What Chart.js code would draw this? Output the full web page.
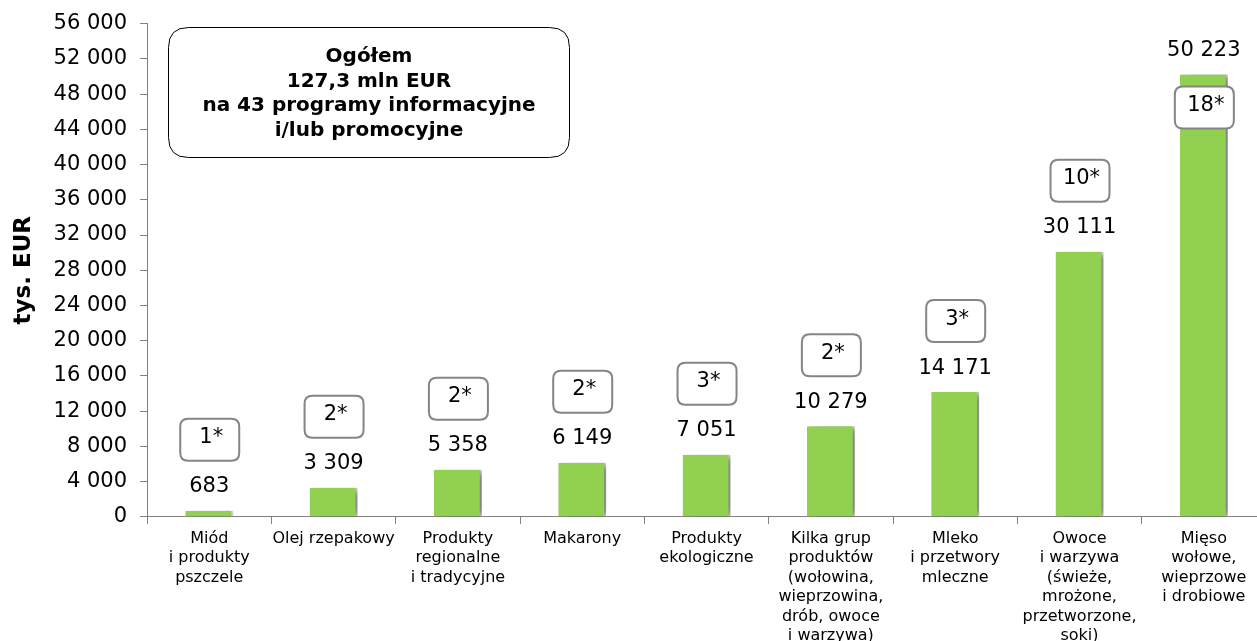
<!DOCTYPE html>
<html>
<head>
<meta charset="utf-8">
<script src="https://cdn.jsdelivr.net/npm/chart.js@4"></script>
<style>
  html, body { margin: 0; padding: 0; background: #fff; overflow: hidden; }
  #wrap { position: relative; width: 1268px; height: 656px; margin-top: -2px; }
</style>
</head>
<body>
<div id="wrap"><canvas id="budgetChart"></canvas></div>
<script>
// Sector names (one array entry per label line)
var categories = [
    ['Miód', 'i produkty', 'pszczele'],
    ['Olej rzepakowy'],
    ['Produkty', 'regionalne', 'i tradycyjne'],
    ['Makarony'],
    ['Produkty', 'ekologiczne'],
    ['Kilka grup', 'produktów', '(wołowina,', 'wieprzowina,', 'drób, owoce', 'i warzywa)'],
    ['Mleko', 'i przetwory', 'mleczne'],
    ['Owoce', 'i warzywa', '(świeże,', 'mrożone,', 'przetworzone,', 'soki)'],
    ['Mięso', 'wołowe,', 'wieprzowe', 'i drobiowe']
];
// Budget per sector, thousands of EUR
var amounts = [683, 3309, 5358, 6149, 7051, 10279, 14171, 30111, 50223];
// Number of programmes per sector
var programmes = [1, 2, 2, 2, 3, 2, 3, 10, 18];
var summaryLines = ['Ogółem', '127,3 mln EUR', 'na 43 programy informacyjne', 'i/lub promocyjne'];

var FONT = '"DejaVu Sans", Verdana, sans-serif';

function spaced(n) {
    return String(n).replace(/\B(?=(\d{3})+(?!\d))/g, ' ');
}

function roundRect(ctx, x, y, w, h, r) {
    ctx.beginPath();
    ctx.moveTo(x + r, y);
    ctx.lineTo(x + w - r, y);
    ctx.quadraticCurveTo(x + w, y, x + w, y + r);
    ctx.lineTo(x + w, y + h - r);
    ctx.quadraticCurveTo(x + w, y + h, x + w - r, y + h);
    ctx.lineTo(x + r, y + h);
    ctx.quadraticCurveTo(x, y + h, x, y + h - r);
    ctx.lineTo(x, y + r);
    ctx.quadraticCurveTo(x, y, x + r, y);
    ctx.closePath();
}

// soft shadow on the right of each bar
var barShadow = {
    id: 'barShadow',
    beforeDatasetsDraw: function(chart) {
        var ctx = chart.ctx;
        ctx.save();
        ctx.shadowColor = 'rgba(0, 0, 0, 0.55)';
        ctx.shadowBlur = 8;
        ctx.shadowOffsetX = 5;
        ctx.shadowOffsetY = 1;
    },
    afterDatasetsDraw: function(chart) {
        chart.ctx.restore();
    }
};

// value labels, programme-count boxes and the summary box
var annotations = {
    id: 'annotations',
    afterDraw: function(chart) {
        var ctx = chart.ctx;
        var bars = chart.getDatasetMeta(0).data;
        ctx.save();
        ctx.textAlign = 'center';
        ctx.textBaseline = 'middle';
        ctx.font = '21px ' + FONT;
        bars.forEach(function(bar, i) {
            var labelY = bar.y - 24;
            ctx.fillStyle = '#000';
            ctx.fillText(spaced(amounts[i]), bar.x, labelY);

            // the last bar is tall enough to hold its box inside
            var boxY = i === amounts.length - 1 ? labelY + 57 : labelY - 47;
            roundRect(ctx, bar.x - 29, boxY - 21, 59, 42, 8);
            ctx.fillStyle = '#fff';
            ctx.fill();
            ctx.lineWidth = 2;
            ctx.strokeStyle = '#858585';
            ctx.stroke();
            ctx.fillStyle = '#000';
            ctx.fillText(programmes[i] + '*', bar.x + 2, boxY - 2);
        });

        roundRect(ctx, 168.5, 29.5, 401, 130, 20);
        ctx.fillStyle = '#fff';
        ctx.fill();
        ctx.lineWidth = 1;
        ctx.strokeStyle = '#000';
        ctx.stroke();
        ctx.fillStyle = '#000';
        ctx.font = 'bold 20px ' + FONT;
        summaryLines.forEach(function(line, k) {
            ctx.fillText(line, 369, 59 + k * 24.5);
        });
        ctx.restore();
    }
};

var ctx = document.getElementById('budgetChart').getContext('2d');
var budgetChart = new Chart(ctx, {
    type: 'bar',
    data: {
        labels: categories,
        datasets: [{
            data: amounts,
            backgroundColor: '#92d050',
            borderColor: '#ffffff',
            borderWidth: { top: 0, left: 0, right: 2, bottom: 0 },
            borderSkipped: false,
            barPercentage: 0.385,
            categoryPercentage: 1
        }]
    },
    options: {
        responsive: true,
        maintainAspectRatio: false,
        animation: false,
        layout: { padding: { top: 8, right: 2, left: 10, bottom: 3 } },
        plugins: {
            legend: { display: false },
            tooltip: { enabled: false }
        },
        scales: {
            x: {
                grid: { drawOnChartArea: false, tickLength: 7, color: '#808080' },
                border: { color: '#808080', width: 1 },
                ticks: {
                    color: '#000',
                    font: { family: FONT, size: 16, lineHeight: 1.22 },
                    maxRotation: 0,
                    autoSkip: false,
                    padding: 5
                }
            },
            y: {
                min: 0,
                max: 56000,
                grid: { drawOnChartArea: false, tickLength: 7, color: '#808080' },
                border: { color: '#808080', width: 1 },
                ticks: {
                    stepSize: 4000,
                    color: '#000',
                    font: { family: FONT, size: 21 },
                    padding: 13,
                    callback: function(v) { return spaced(v); }
                },
                title: {
                    display: true,
                    text: 'tys. EUR',
                    color: '#000',
                    font: { family: FONT, size: 23, weight: 'bold' },
                    padding: { top: 0, bottom: 3 }
                }
            }
        }
    },
    plugins: [barShadow, annotations]
});
</script>
</body>
</html>
